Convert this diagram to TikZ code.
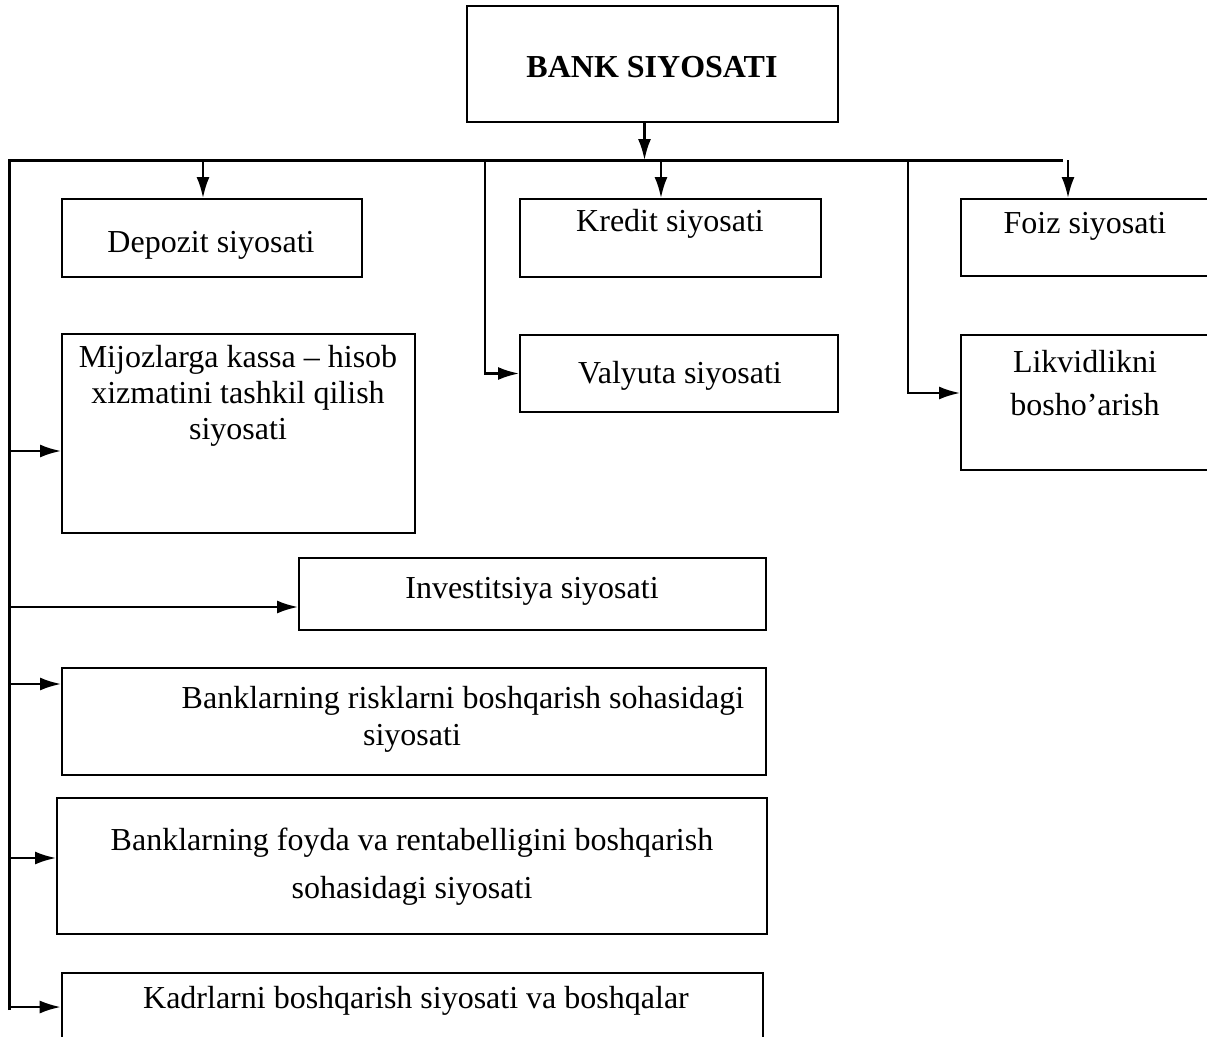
\documentclass[tikz,border=0pt]{standalone}
\usepackage{fontspec}
\setmainfont{Liberation Serif}
\usetikzlibrary{arrows.meta}

\begin{document}
\begin{tikzpicture}[x=1pt, y=-1pt,
  box/.style={draw, line width=2pt, inner sep=0pt},
  txt/.style={inner sep=0pt, align=center,
    font=\fontsize{32}{36}\selectfont},
  arr/.style={line width=2.3pt, -{Latex[length=21pt,width=13pt]}},
  trunk/.style={line width=3pt}
]
\fill[white] (0,0) rectangle (1207,1036);
\useasboundingbox (0,0) rectangle (1207,1036);

% head box
\node[box, minimum width=371pt, minimum height=116pt] (bank) at (652.5,64) {};
\node[txt, font=\fontsize{32}{36}\selectfont\bfseries] (bank-t) at (652,67) {BANK SIYOSATI};

% first row
\node[box, minimum width=300pt, minimum height=78pt] (depozit) at (212,238) {};
\node[txt] (depozit-t) at (211,245) {Depozit siyosati};
\node[box, minimum width=301pt, minimum height=78pt] (kredit) at (670.5,238) {};
\node[txt] (kredit-t) at (670,224) {Kredit siyosati};
\node[box, minimum width=248pt, minimum height=77pt] (foiz) at (1085,237.5) {};
\node[txt] (foiz-t) at (1085,226) {Foiz siyosati};

% second row
\node[box, minimum width=318pt, minimum height=77pt] (valyuta) at (679,373.5) {};
\node[txt] (valyuta-t) at (680,376) {Valyuta siyosati};
\node[box, minimum width=248pt, minimum height=135pt] (likvid) at (1085,402.5) {};
\node[txt] (likvid-t) at (1085,383) {Likvidlikni\\[7pt]bosho’arish};
\node[box, minimum width=353pt, minimum height=199pt] (mijoz) at (238.5,433.5) {};
\node[txt] (mijoz-t) at (238,396) {Mijozlarga kassa – hisob\\xizmatini tashkil qilish\\siyosati};

% lower column
\node[box, minimum width=467pt, minimum height=72pt] (invest) at (532.5,594) {};
\node[txt] (invest-t) at (532,591) {Investitsiya siyosati};
\node[box, minimum width=704pt, minimum height=107pt] (risk) at (414,721.5) {};
\node[txt] (risk-a) at (463,701) {Banklarning risklarni boshqarish sohasidagi};
\node[txt] (risk-b) at (412,738) {siyosati};
\node[box, minimum width=710pt, minimum height=136pt] (foyda) at (412,866) {};
\node[txt] (foyda-t) at (412,867) {Banklarning foyda va rentabelligini boshqarish\\[12pt]sohasidagi siyosati};
\node[box, line width=2.6pt, minimum width=701pt, minimum height=77pt] (kadr) at (412.5,1011.5) {};
\node[txt] (kadr-t) at (416,1001) {Kadrlarni boshqarish siyosati va boshqalar};

% distribution lines
\coordinate (hl) at (9,160);
\coordinate (hr) at (1063,160);
\coordinate (vend) at (9,1010);
\coordinate (b1) at (485,160);
\coordinate (b2) at (908,160);

% entry points on the boxes
\coordinate (bankout) at ([xshift=-8pt]bank.south);
\coordinate (depin) at ([xshift=-9pt]depozit.north);
\coordinate (krin) at ([xshift=-9.5pt]kredit.north);
\coordinate (foin) at ([xshift=-17pt]foiz.north);
\coordinate (likin) at ([yshift=9.5pt]likvid.west);
\coordinate (mjin) at ([yshift=-17.5pt]mijoz.west);
\coordinate (invin) at ([yshift=-13pt]invest.west);
\coordinate (rkin) at ([yshift=37.5pt]risk.west);
\coordinate (fyin) at ([yshift=8pt]foyda.west);
\coordinate (kdin) at ([yshift=4.5pt]kadr.west);

\draw[trunk] (vend) -- (hl) -- (hr);
\draw[arr] (bankout) -- (bankout |- hl);

\draw[arr] (depin |- hl) -- (depin);
\draw[arr] (krin |- hl) -- (krin);
\draw[arr] (foin |- hl) -- (foin);

\draw[arr] (b1) |- (valyuta.west);
\draw[arr] (b2) |- (likin);

\draw[arr] (hl |- mjin) -- (mjin);
\draw[arr] (hl |- invin) -- (invin);
\draw[arr] (hl |- rkin) -- (rkin);
\draw[arr] (hl |- fyin) -- (fyin);
\draw[arr] (hl |- kdin) -- (kdin);
\end{tikzpicture}
\end{document}
